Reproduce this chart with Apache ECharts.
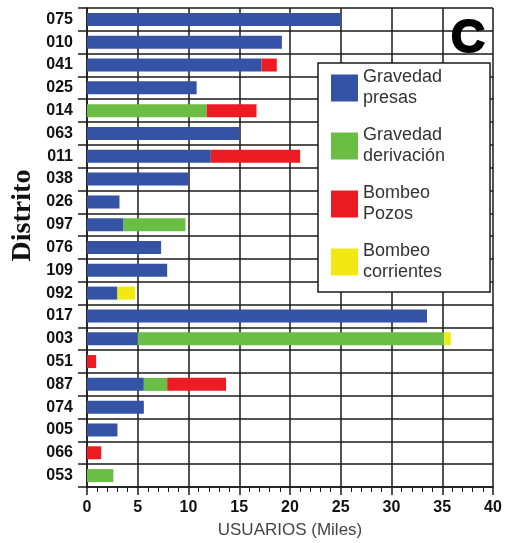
<!DOCTYPE html>
<html>
<head>
<meta charset="utf-8">
<script src="https://cdn.jsdelivr.net/npm/echarts@6/dist/echarts.min.js"></script>
<style>html,body{margin:0;padding:0;background:#fff}#c{width:505px;height:543px}</style>
</head>
<body>
<div id="c"></div>
<script>
var districts = ['075','010','041','025','014','063','011','038','026','097','076','109','092','017','003','051','087','074','005','066','053'];
var gravedadPresas     = [25, 19.2, 17.2, 10.8, 0, 15, 12.2, 10, 3.2, 3.6, 7.3, 7.9, 3.0, 33.5, 5.0, 0, 5.6, 5.6, 3.0, 0, 0];
var gravedadDerivacion = [0, 0, 0, 0, 11.8, 0, 0, 0, 0, 6.1, 0, 0, 0, 0, 30.2, 0, 2.3, 0, 0, 0, 2.6];
var bombeoPozos        = [0, 0, 1.5, 0, 4.9, 0, 8.8, 0, 0, 0, 0, 0, 0, 0, 0, 0.9, 5.8, 0, 0, 1.4, 0];
var bombeoCorrientes   = [0, 0, 0, 0, 0, 0, 0, 0, 0, 0, 0, 0, 1.75, 0, 0.65, 0, 0, 0, 0, 0, 0];
var xTicks = [0, 5, 10, 15, 20, 25, 30, 35, 40];
var seriesNames = ['Gravedad\npresas', 'Gravedad\nderivación', 'Bombeo\nPozos', 'Bombeo\ncorrientes'];
var colors = ['#3453a5', '#6abd45', '#ed1c24', '#f3e912'];

var chart = echarts.init(document.getElementById('c'), null, {renderer: 'canvas'});
var lineC = '#1a1a1a';
function mk(name, data, color) {
  return {
    name: name, type: 'bar', stack: 'u', data: data, barWidth: 13,
    itemStyle: {color: color}, emphasis: {disabled: true}
  };
}
chart.setOption({
  animation: false,
  backgroundColor: '#ffffff',
  grid: {left: 87, right: 12, top: 8, bottom: 56, containLabel: false, outerBoundsMode: 'none'},
  xAxis: {
    type: 'value', min: xTicks[0], max: xTicks[xTicks.length - 1], interval: 5,
    name: 'USUARIOS (Miles)', nameLocation: 'middle', nameGap: 35, nameMoveOverlap: false,
    nameTextStyle: {fontFamily: 'Liberation Sans', fontSize: 17, color: '#444'},
    axisLine: {show: true, lineStyle: {color: lineC, width: 1.5}},
    axisTick: {show: true, length: 8, lineStyle: {color: lineC, width: 1.5}},
    minorTick: {show: true, splitNumber: 5, length: 5, lineStyle: {color: lineC, width: 1}},
    splitLine: {show: true, lineStyle: {color: lineC, width: 1.5}},
    axisLabel: {margin: 13, fontFamily: 'Liberation Sans', fontWeight: 'bold', fontSize: 16, color: '#111'}
  },
  yAxis: {
    type: 'category', data: districts, inverse: true,
    name: 'Distrito', nameLocation: 'middle', nameGap: 50, nameRotate: 90, nameMoveOverlap: false,
    nameTextStyle: {fontFamily: 'Liberation Serif', fontWeight: 'bold', fontSize: 28, color: '#111', padding: [0, 0, 0, 64]},
    axisLine: {show: true, lineStyle: {color: lineC, width: 1.5}},
    axisTick: {show: true, length: 9, alignWithLabel: false, lineStyle: {color: lineC, width: 1.5}},
    splitLine: {show: true, lineStyle: {color: lineC, width: 1.5}},
    axisLabel: {margin: 14, fontFamily: 'Liberation Sans', fontWeight: 'bold', fontSize: 16, color: '#111'}
  },
  legend: {
    orient: 'vertical', left: 318, top: 63,
    data: seriesNames,
    itemWidth: 27, itemHeight: 27, itemGap: 16,
    icon: 'rect',
    backgroundColor: '#fff', borderColor: lineC, borderWidth: 1.5,
    padding: [4, 45, 9, 13],
    textStyle: {fontFamily: 'Liberation Sans', fontSize: 18, color: '#333', lineHeight: 21},
    selectedMode: false
  },
  graphic: [{
    type: 'text', left: 450, top: 15, z: 100,
    style: {text: 'C', fontFamily: 'Liberation Sans', fontWeight: 'bold', fontSize: 47, fill: '#000', stroke: '#000', lineWidth: 2}
  }],
  series: [
    mk(seriesNames[0], gravedadPresas, colors[0]),
    mk(seriesNames[1], gravedadDerivacion, colors[1]),
    mk(seriesNames[2], bombeoPozos, colors[2]),
    mk(seriesNames[3], bombeoCorrientes, colors[3])
  ]
});
</script>
</body>
</html>
